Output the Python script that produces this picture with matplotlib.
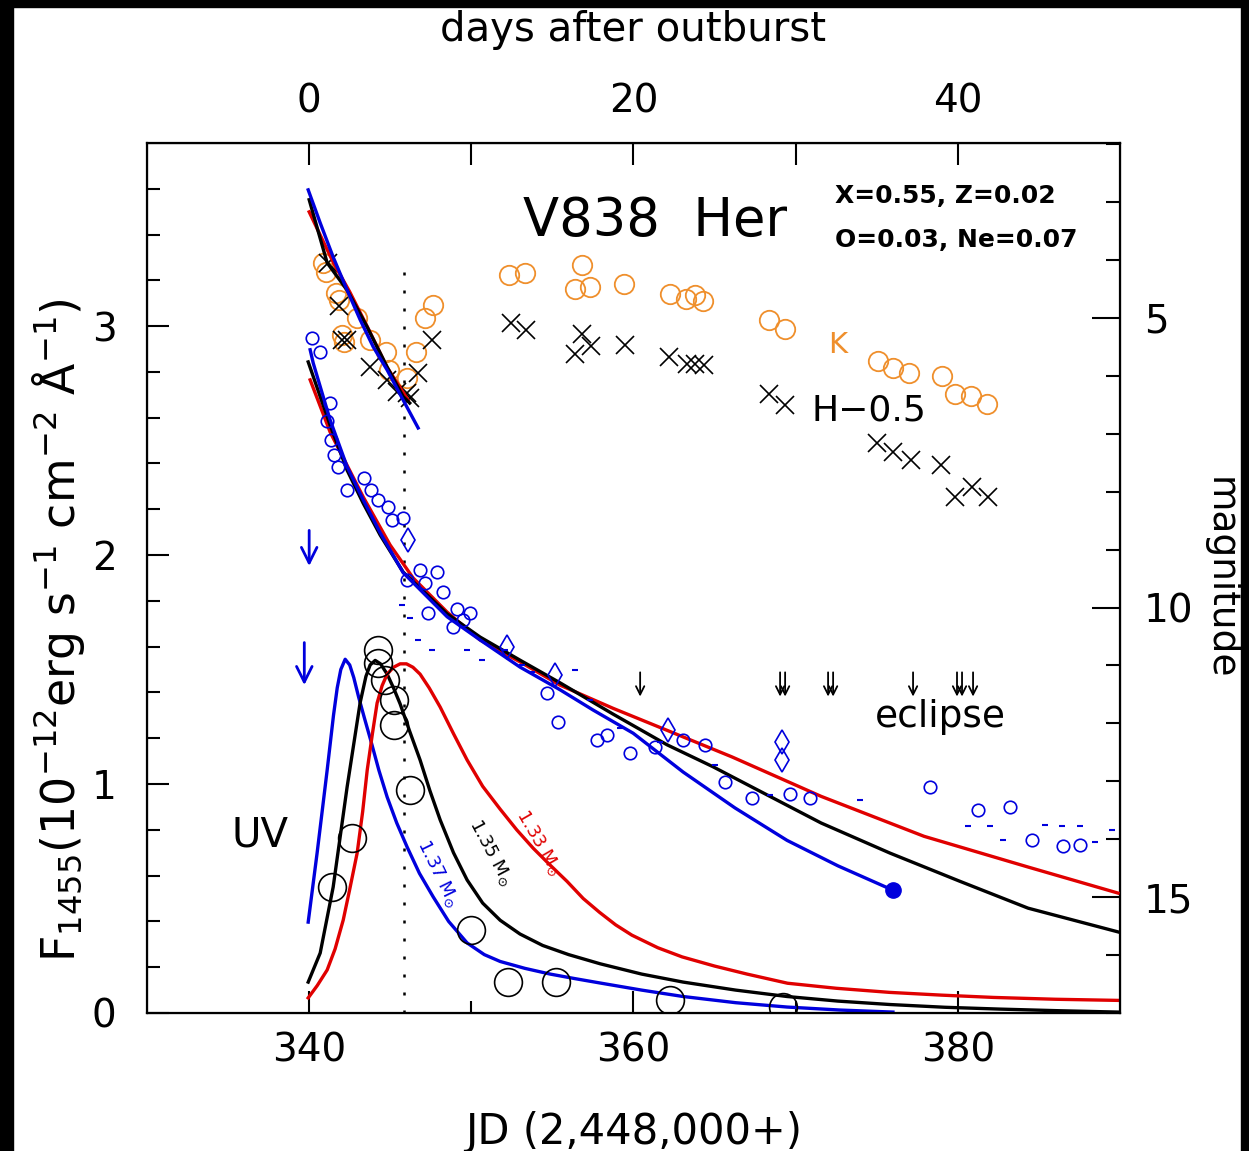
import numpy as np
import matplotlib.pyplot as plt
from matplotlib.patches import Rectangle

# --- K band (magnitude) ---
k_jd = [340.86, 341.05, 341.66, 341.85, 342.03, 342.16, 342.96, 343.76, 344.75, 344.93,
        346.04, 346.60, 347.15, 347.65,
        352.33, 353.32, 356.83, 356.40, 357.32, 359.42, 362.26, 363.24, 363.80, 364.29,
        368.36, 369.35, 375.08, 376.01, 376.99, 379.03, 379.83, 380.81, 381.80]
k_mag = [4.05, 4.21, 4.57, 4.69, 5.29, 5.41, 5.00, 5.38, 5.59, 5.90,
         6.04, 5.59, 5.00, 4.78,
         4.26, 4.22, 4.08, 4.50, 4.46, 4.41, 4.59, 4.67, 4.60, 4.71,
         5.03, 5.19, 5.74, 5.86, 5.95, 6.00, 6.31, 6.35, 6.49]

# --- H - 0.5 (magnitude) ---
h_jd = [341.17, 341.85, 342.03, 342.34, 343.76, 344.81, 345.43, 346.04, 346.23, 346.72, 347.58,
        352.45, 353.38, 356.83, 356.40, 357.39, 359.48, 362.19, 363.30, 363.80, 364.35,
        368.36, 369.35, 375.02, 376.01, 377.11, 378.96, 379.83, 380.88, 381.86]
h_mag = [4.05, 4.79, 5.38, 5.38, 5.85, 6.07, 6.28, 6.30, 6.38, 5.95, 5.38,
         5.09, 5.21, 5.28, 5.62, 5.48, 5.47, 5.67, 5.79, 5.79, 5.81,
         6.31, 6.50, 7.16, 7.31, 7.45, 7.54, 8.09, 7.92, 8.09]

# --- V band points (magnitude) ---
v_jd = [340.18, 340.68, 341.29, 341.11, 341.36, 341.54, 341.79, 342.34, 343.39, 343.82,
        344.25, 344.87, 345.12, 345.80, 346.84, 347.89, 346.04, 347.15, 348.26, 347.34,
        349.12, 349.93, 348.88, 349.49, 354.67, 355.35, 357.76, 358.37, 359.79, 361.33,
        363.06, 364.41, 365.65, 367.31, 369.65, 370.89, 378.29, 381.25, 383.22, 384.57,
        386.49, 387.53]
v_mag = [5.35, 5.59, 6.47, 6.78, 7.11, 7.37, 7.57, 7.97, 7.76, 7.97,
         8.14, 8.26, 8.49, 8.45, 9.35, 9.39, 9.53, 9.58, 9.73, 10.10,
         10.03, 10.10, 10.34, 10.22, 11.48, 11.98, 12.29, 12.20, 12.51, 12.41,
         12.29, 12.37, 13.01, 13.29, 13.22, 13.29, 13.10, 13.50, 13.45, 14.02,
         14.12, 14.10]
vd_jd = [346.10, 352.21, 355.17, 362.13, 369.16, 369.16]
vd_mag = [8.83, 10.68, 11.17, 12.12, 12.32, 12.63]
vs_jd = [345.73, 346.23, 346.72, 347.58, 349.74, 350.67, 352.08, 353.13, 353.75, 356.40,
         357.32, 359.17, 361.64, 365.03, 368.42, 373.97, 380.63, 381.99, 382.79, 385.38,
         386.42, 387.53, 388.46, 389.51]
vs_mag = [9.96, 10.18, 10.56, 10.73, 10.73, 10.91, 10.73, 10.99, 11.11, 11.08,
          11.60, 12.08, 12.32, 12.72, 13.24, 13.32, 13.77, 13.77, 14.02, 13.76,
          13.77, 13.77, 14.05, 13.84]

# --- UV 1455 flux points ---
uv_jd = [341.42, 342.65, 344.25, 344.25, 344.69, 345.24, 345.24, 346.23, 349.99, 352.27,
         355.23, 362.26, 369.22]
uv_flux = [0.550, 0.764, 1.585, 1.528, 1.454, 1.367, 1.258, 0.974, 0.362, 0.135,
           0.135, 0.057, 0.026]

# --- model light curves: early IR (magnitude) ---
ir_blue_jd = [339.94, 340.68, 341.48, 342.34, 343.14, 343.95, 344.81, 345.80, 346.72]
ir_blue_mag = [2.79, 3.36, 3.95, 4.52, 5.03, 5.50, 5.90, 6.42, 6.90]
ir_black_jd = [340.0, 341.11, 342.34, 343.58, 344.81, 345.80, 346.20]
ir_black_mag = [2.96, 4.05, 4.52, 5.16, 5.85, 6.36, 6.47]
ir_red_jd = [340.0, 340.68, 341.50, 342.50, 343.60, 344.80, 346.10]
ir_red_mag = [3.17, 3.57, 4.05, 4.55, 5.16, 5.85, 6.42]

# --- model light curves: V (magnitude) ---
vb_jd = [340.06, 340.25, 341.29, 342.34, 343.33, 344.38, 345.80, 348.51, 350.54, 353.01,
         355.47, 357.51, 359.98, 363.06, 366.26, 369.47, 372.61, 376.00]
vb_mag = [5.55, 5.78, 6.76, 7.57, 8.14, 8.71, 9.40, 10.16, 10.56, 11.03,
          11.42, 11.77, 12.17, 12.84, 13.46, 14.02, 14.46, 14.88]
vk_jd = [339.94, 341.29, 342.34, 343.33, 344.38, 345.80, 348.51, 350.54, 353.01, 355.47,
         358.74, 362.07, 364.91, 367.31, 371.57, 375.82, 380.07, 384.33, 389.88]
vk_mag = [5.76, 6.85, 7.63, 8.20, 8.75, 9.39, 10.11, 10.51, 10.91, 11.30,
          11.84, 12.37, 12.75, 13.10, 13.72, 14.24, 14.72, 15.19, 15.60]
vr_jd = [340.06, 341.29, 343.33, 344.99, 346.41, 348.51, 350.54, 353.01, 355.47, 358.74,
         362.07, 366.08, 371.57, 377.92, 384.33, 389.88]
vr_mag = [6.07, 6.97, 8.09, 8.92, 9.49, 10.08, 10.56, 10.94, 11.34, 11.74,
          12.12, 12.58, 13.26, 13.95, 14.48, 14.93]

# --- model light curves: UV flux ---
ub_jd = [339.94, 340.49, 341.11, 341.5, 341.73, 341.95, 342.22, 342.5, 342.75, 343.05,
         343.4, 343.8, 344.3, 344.81, 345.4, 346.04, 346.8, 347.65, 348.6, 349.74,
         350.8, 351.78, 353.3, 354.86, 356.4, 357.94, 360.5, 363.06, 366.3, 369.47,
         372.7, 376.00]
ub_flux = [0.397, 0.699, 1.061, 1.30, 1.42, 1.50, 1.545, 1.52, 1.465, 1.38,
           1.29, 1.19, 1.06, 0.943, 0.83, 0.725, 0.61, 0.507, 0.40, 0.306,
           0.255, 0.225, 0.195, 0.170, 0.150, 0.131, 0.10, 0.072, 0.045, 0.026,
           0.013, 0.004]
uk_jd = [339.94, 340.68, 341.48, 342.34, 343.14, 343.5, 343.76, 344.07, 344.4, 344.81,
         345.2, 345.61, 346.2, 346.84, 347.45, 348.08, 348.9, 349.74, 350.7, 351.78,
         353.0, 354.4, 356.0, 357.94, 360.5, 363.06, 366.3, 369.47, 372.6, 375.82,
         379.2, 382.60, 386.2, 389.88]
uk_flux = [0.135, 0.262, 0.550, 0.987, 1.354, 1.47, 1.52, 1.54, 1.525, 1.48,
           1.42, 1.35, 1.23, 1.105, 0.97, 0.843, 0.70, 0.581, 0.48, 0.405,
           0.345, 0.295, 0.255, 0.215, 0.17, 0.135, 0.10, 0.072, 0.052, 0.037,
           0.025, 0.017, 0.010, 0.004]
ur_jd = [339.94, 340.5, 341.11, 341.6, 342.10, 342.5, 342.96, 343.3, 343.58, 343.9,
         344.19, 344.5, 344.81, 345.2, 345.61, 346.0, 346.4, 346.84, 347.4, 348.08,
         348.9, 349.74, 350.7, 351.78, 352.8, 353.81, 354.8, 355.9, 356.9, 357.9,
         358.9, 359.9, 361.5, 363.0, 365.0, 367.0, 369.5, 372.5, 375.8, 379.0,
         382.2, 386.0, 389.9]
ur_flux = [0.066, 0.12, 0.188, 0.28, 0.406, 0.54, 0.699, 0.88, 1.061, 1.22,
           1.354, 1.43, 1.48, 1.51, 1.525, 1.525, 1.51, 1.48, 1.42, 1.336,
           1.22, 1.105, 0.99, 0.89, 0.80, 0.72, 0.65, 0.575, 0.50, 0.44,
           0.385, 0.34, 0.285, 0.245, 0.205, 0.17, 0.13, 0.108, 0.09, 0.078,
           0.068, 0.06, 0.055]

eclipse_jd = [360.41, 369.04, 369.35, 372.00, 372.31, 377.24, 379.95, 380.26, 380.94]

BLUE = '#0000dd'
RED = '#e00000'
ORANGE = '#ef8f2c'

fig = plt.figure(figsize=(12.49, 11.51), dpi=100)
ax = fig.add_axes([0.1177, 0.1199, 0.779, 0.7559])
ax.set_xlim(330, 390)
ax.set_ylim(0, 3.80)

ax2 = ax.twinx()
ax2.set_ylim(17.0, 1.98)

# dotted line at optical maximum
ax.plot([345.86, 345.86], [0, 3.30], color='k', ls=(0, (1.2, 6)), lw=1.8)

# UV models and data
ax.plot(ub_jd, ub_flux, color=BLUE, lw=2.4)
ax.plot(uk_jd, uk_flux, color='k', lw=2.4)
ax.plot(ur_jd, ur_flux, color=RED, lw=2.4)
ax.plot(uv_jd, uv_flux, 'o', mfc='none', mec='k', ms=20, mew=1.2)

# V models and data
ax2.plot(vr_jd, vr_mag, color=RED, lw=2.4)
ax2.plot(vk_jd, vk_mag, color='k', lw=2.4)
ax2.plot(vb_jd, vb_mag, color=BLUE, lw=2.4)
ax2.plot(vb_jd[-1], vb_mag[-1], 'o', color=BLUE, ms=11)
ax2.plot(v_jd, v_mag, 'o', mfc='none', mec=BLUE, ms=9, mew=1.2)
ax2.plot(vd_jd, vd_mag, 'd', mfc='none', mec=BLUE, ms=12, mew=1.2)
ax2.plot(vs_jd, vs_mag, '_', color=BLUE, ms=5, mew=1.5)

# IR models and data
ax2.plot(k_jd, k_mag, 'o', mfc='none', mec=ORANGE, ms=14, mew=1.3)
ax2.plot(h_jd, h_mag, 'x', color='k', ms=13, mew=1.2)
ax2.plot(ir_red_jd, ir_red_mag, color=RED, lw=2.4)
ax2.plot(ir_black_jd, ir_black_mag, color='k', lw=2.4)
ax2.plot(ir_blue_jd, ir_blue_mag, color=BLUE, lw=2.4)

# upper limit arrows
for x0, ytop, ybot in [(340.0, 2.12, 1.94), (339.7, 1.63, 1.42)]:
    ax.annotate('', xy=(x0, ybot), xytext=(x0, ytop),
                arrowprops=dict(arrowstyle='->', color=BLUE, lw=2, mutation_scale=28))

# eclipse arrows
for e in eclipse_jd:
    ax.annotate('', xy=(e, 1.37), xytext=(e, 1.50),
                arrowprops=dict(arrowstyle='->', color='k', lw=1.3, mutation_scale=15))

ax.text(361.3, 3.46, 'V838  Her', fontsize=38, ha='center', va='center')
ax.text(372.4, 3.57, 'X=0.55, Z=0.02', fontsize=18, fontweight='bold', ha='left', va='center')
ax.text(372.4, 3.375, 'O=0.03, Ne=0.07', fontsize=18, fontweight='bold', ha='left', va='center')
ax.text(372.6, 2.917, 'K', fontsize=21, color=ORANGE, ha='center', va='center')
ax.text(371.0, 2.633, 'H\u22120.5', fontsize=26, ha='left', va='center')
ax.text(336.98, 0.777, 'UV', fontsize=29, ha='center', va='center')
ax.text(378.9, 1.293, 'eclipse', fontsize=27, ha='center', va='center')
ax.text(347.95, 0.611, r'1.37 M$_{\odot}$', fontsize=13, color=BLUE, rotation=-64,
        ha='center', va='center')
ax.text(351.16, 0.699, r'1.35 M$_{\odot}$', fontsize=13, color='k', rotation=-62,
        ha='center', va='center')
ax.text(354.12, 0.742, r'1.33 M$_{\odot}$', fontsize=13, color=RED, rotation=-60,
        ha='center', va='center')

# axes and ticks
for sp in ax.spines.values():
    sp.set_linewidth(1.6)
ax.set_xticks([340, 360, 380])
ax.set_xticks([350, 370], minor=True)
ax.set_yticks([0, 1, 2, 3])
ax.set_yticks(np.arange(0.2, 3.8, 0.2), minor=True)
ax.tick_params(which='both', direction='in', top=False, right=False, width=1.5, labelsize=28)
ax.tick_params(which='major', length=16)
ax.tick_params(which='minor', length=9)
ax.tick_params(axis='x', pad=13)
ax.tick_params(axis='y', pad=22)

ax2.set_yticks([5, 10, 15])
ax2.set_yticks(np.arange(2, 18, 1), minor=True)
ax2.tick_params(which='both', direction='in', width=1.5, labelsize=28, pad=17)
ax2.tick_params(which='major', length=20)
ax2.tick_params(which='minor', length=10)

secax = ax.secondary_xaxis('top', functions=(lambda x: x - 340, lambda d: d + 340))
secax.set_xticks([0, 20, 40])
secax.set_xticks([10, 30], minor=True)
secax.tick_params(which='both', direction='in', length=16, width=1.5, labelsize=28, pad=16)
secax.set_xlabel('days after outburst', fontsize=29, labelpad=30)

ax.set_xlabel('JD (2,448,000+)', fontsize=30, labelpad=30)
ax.set_ylabel(r'F$_{1455}$(10$^{-12}$erg s$^{-1}$ cm$^{-2}$ $\mathrm{\AA}^{-1}$)',
              fontsize=33)
ax.yaxis.set_label_coords(-0.062, 0.44)
ax2.set_ylabel('magnitude', fontsize=27, rotation=270, labelpad=32)

# black frame of the scanned image
fig.patches.append(Rectangle((0, 0), 13 / 1249, 1, transform=fig.transFigure,
                             color='k', zorder=10))
fig.patches.append(Rectangle((1 - 8 / 1249, 0), 8 / 1249, 1, transform=fig.transFigure,
                             color='k', zorder=10))
fig.patches.append(Rectangle((0, 1 - 7 / 1151), 1, 7 / 1151, transform=fig.transFigure,
                             color='k', zorder=10))

fig.savefig('out.png', dpi=100)
